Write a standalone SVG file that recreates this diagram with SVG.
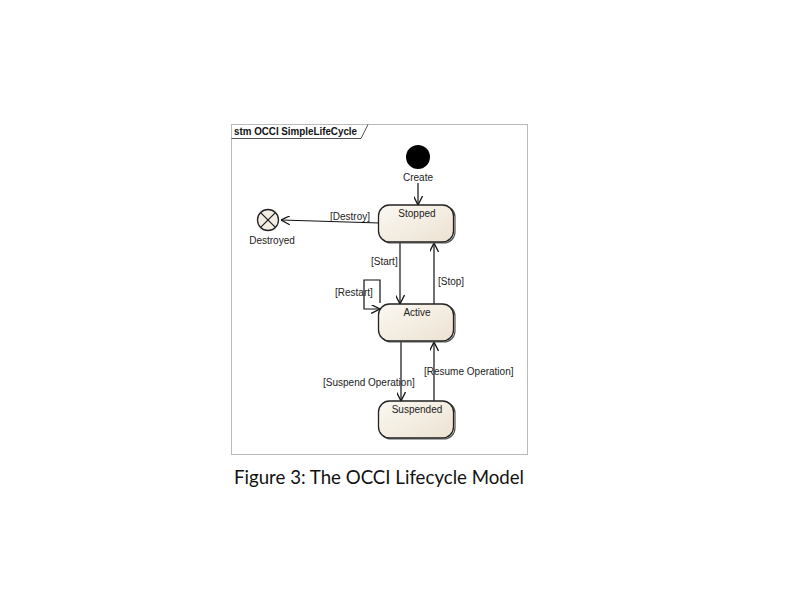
<svg xmlns="http://www.w3.org/2000/svg" width="800" height="600" viewBox="0 0 800 600">
<style>
.lbl{font-family:"Liberation Sans",Arial,sans-serif;font-size:10px;fill:#222}
.st{fill:url(#g);stroke:#222;stroke-width:1.3}
.sh{fill:none;stroke:#555;stroke-width:1.2}
.c{fill:none;stroke:#111;stroke-width:1.2}
</style>
<defs>
<linearGradient id="g" x1="0" y1="0" x2="1" y2="1">
<stop offset="0" stop-color="#fbf8f2"/>
<stop offset="1" stop-color="#ece2d2"/>
</linearGradient>
<marker id="a" viewBox="0 0 10 10" refX="10" refY="5" markerWidth="9" markerHeight="9" markerUnits="userSpaceOnUse" orient="auto">
<path d="M0,0 L10,5 L0,10" fill="none" stroke="#111" stroke-width="1.4"/>
</marker>
</defs>
<rect width="800" height="600" fill="#fff"/>
<g id="frame">
<rect x="231.5" y="124.5" width="296" height="330" fill="#fff" stroke="#bbb" stroke-width="1"/>
<path d="M231.5,138.5 H361 L368,124.5" fill="none" stroke="#555" stroke-width="1"/>
<text x="234" y="135" font-family="Liberation Sans,Arial,sans-serif" font-size="10" font-weight="bold" fill="#111" textLength="123" lengthAdjust="spacingAndGlyphs">stm OCCI SimpleLifeCycle</text>
</g>
<g id="connectors">
<line class="c" x1="380" y1="223" x2="281" y2="220" marker-end="url(#a)"/>
<line class="c" x1="418" y1="183" x2="418" y2="205" marker-end="url(#a)"/>
<line class="c" x1="400" y1="243" x2="400" y2="304" marker-end="url(#a)"/>
<line class="c" x1="434" y1="304" x2="434" y2="243" marker-end="url(#a)"/>
<path class="c" d="M380,303 V280 H364 V309 H380" marker-end="url(#a)"/>
<line class="c" x1="401" y1="342" x2="401" y2="401" marker-end="url(#a)"/>
<line class="c" x1="434" y1="401" x2="434" y2="342" marker-end="url(#a)"/>
<text class="lbl" x="330" y="220">[Destroy]</text>
<text class="lbl" x="371" y="265">[Start]</text>
<text class="lbl" x="438" y="285">[Stop]</text>
<text class="lbl" x="335" y="296">[Restart]</text>
<text class="lbl" x="323" y="386">[Suspend Operation]</text>
<text class="lbl" x="424" y="375">[Resume Operation]</text>
</g>
<g id="initial">
<circle cx="418" cy="157" r="12" fill="#000"/>
<text class="lbl" x="418" y="181" text-anchor="middle">Create</text>
</g>
<g id="destroyed">
<circle cx="268" cy="220" r="10.5" fill="#f3ede3" stroke="#222" stroke-width="1.3"/>
<path d="M260.6,212.6 L275.4,227.4 M275.4,212.6 L260.6,227.4" stroke="#222" stroke-width="1.3"/>
<text class="lbl" x="272" y="244" text-anchor="middle">Destroyed</text>
</g>
<g id="stopped">
<rect x="380" y="206" width="75" height="37" rx="11" class="sh"/>
<rect x="378.5" y="205" width="75" height="37" rx="11" class="st"/>
<text class="lbl" x="417" y="217" text-anchor="middle">Stopped</text>
</g>
<g id="active">
<rect x="380" y="305" width="75" height="37" rx="11" class="sh"/>
<rect x="378.5" y="304" width="75" height="37" rx="11" class="st"/>
<text class="lbl" x="417" y="316" text-anchor="middle">Active</text>
</g>
<g id="suspended">
<rect x="380" y="402" width="75" height="37" rx="11" class="sh"/>
<rect x="378.5" y="401" width="75" height="37" rx="11" class="st"/>
<text class="lbl" x="417" y="413" text-anchor="middle">Suspended</text>
</g>
<text x="234" y="484" font-family="Lato,'Open Sans',sans-serif" font-size="19" fill="#111" textLength="290" lengthAdjust="spacingAndGlyphs">Figure 3: The OCCI Lifecycle Model</text>
</svg>
